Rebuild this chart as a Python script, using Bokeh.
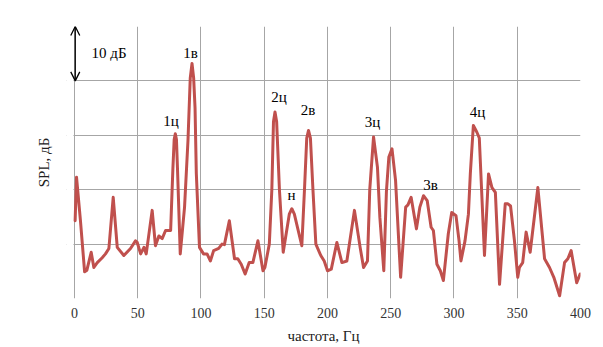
from bokeh.plotting import figure
from bokeh.models import Range1d, FixedTicker, Label, Arrow, OpenHead, BoxAnnotation
from bokeh.embed import file_html
from bokeh.resources import INLINE

# ---- data ----
freq = [0.5, 1.6, 4.7, 8.0, 9.8, 13.2, 15.3, 18.0, 21.9, 24.5, 27.2, 30.6, 33.8, 39.0, 44.3,
        48.2, 49.6, 52.3, 54.9, 56.7, 61.4, 64.0, 66.7, 69.3, 72.0, 76.0, 77.8, 78.8, 79.7,
        80.6, 81.4, 83.6, 87.0, 89.7, 91.5, 92.9, 94.2, 95.3, 96.3, 98.8, 102.0, 104.8,
        107.4, 110.0, 114.0, 116.6, 118.5, 122.4, 126.5, 129.1, 131.8, 134.9, 138.1, 141.0,
        145.0, 149.0, 150.5, 154.0, 156.0, 157.3, 158.5, 159.8, 162.0, 165.0, 169.8, 171.8,
        173.8, 179.7, 181.8, 183.6, 185.0, 186.5, 188.5, 190.8, 194.7, 197.4, 200.0, 203.0,
        207.4, 211.4, 215.3, 221.3, 225.8, 228.5, 231.6, 233.4, 236.4, 239.5, 241.4, 244.5,
        246.6, 248.5, 251.0, 253.8, 257.8, 261.8, 263.6, 266.1, 270.3, 273.0, 275.9, 278.8,
        281.9, 283.7, 286.5, 289.2, 291.6, 295.5, 298.2, 301.6, 304.0, 305.5, 308.7, 311.4,
        312.9, 315.3, 318.0, 320.0, 324.1, 327.3, 330.0, 332.7, 336.0, 340.5, 342.6, 344.7,
        347.8, 350.4, 351.7, 354.3, 357.0, 360.2, 366.3, 371.6, 375.5, 378.9, 383.5, 387.4,
        390.0, 392.6, 397.0, 399.7]
spl = [14.3, 22.3, 14.3, 4.9, 5.2, 8.5, 5.7, 6.6, 7.5, 8.2, 9.2, 18.6, 9.4, 7.9, 9.2,
       10.6, 10.3, 8.2, 9.4, 8.2, 16.2, 9.7, 11.5, 11.0, 12.5, 12.5, 24.0, 29.2, 30.3,
       29.2, 24.0, 8.2, 16.8, 29.0, 40.5, 43.2, 40.5, 35.0, 23.0, 9.4, 8.2, 8.2,
       6.9, 8.8, 9.2, 10.0, 9.9, 14.3, 7.3, 7.3, 6.3, 4.5, 6.6, 6.6,
       10.6, 5.1, 5.7, 10.0, 20.0, 32.5, 34.3, 32.5, 20.0, 8.5, 15.5, 16.5,
       15.5, 9.7, 20.0, 29.5, 30.9, 29.5, 20.0, 10.0, 7.9, 6.9, 5.1, 5.4,
       10.3, 6.6, 6.9, 16.2, 9.4, 5.7, 6.9, 20.0, 29.7, 24.1, 14.9, 5.1,
       19.8, 26.0, 27.5, 21.7, 3.9, 16.8, 17.2, 18.6, 12.8, 16.8, 18.9, 18.0,
       13.1, 12.5, 6.3, 5.1, 3.3, 11.9, 15.8, 15.2, 10.6, 6.9, 10.6, 15.5,
       22.9, 31.8, 30.6, 29.5, 7.9, 22.9, 20.4, 19.5, 2.6, 17.4, 17.4, 17.0,
       10.6, 3.9, 5.7, 6.6, 12.2, 8.5, 20.4, 7.3, 5.7, 3.9, 0.5, 6.6,
       7.3, 8.8, 2.9, 4.5]

x_ticks = [0, 50, 100, 150, 200, 250, 300, 350, 400]
y_grid = [0, 10, 20, 30, 40, 50]

peak_names = ["1ц", "1в", "2ц", "н", "2в", "3ц", "3в", "4ц"]
peak_x = [76.3, 91.7, 161.7, 171.5, 184.6, 235.6, 281.4, 318.6]
peak_y = [32.7, 45.1, 37.0, 19.1, 34.6, 32.4, 20.8, 34.2]

FONT = "Liberation Serif"
GRID = "#a6a6a6"
X_PAD = -6.32   # small blank strip left of 0 Hz so the scale arrow's heads are not clipped

p = figure(width=603, height=347, output_backend="svg", toolbar_location=None,
           x_range=Range1d(X_PAD, 400), y_range=Range1d(0, 50),
           min_border_left=66, min_border_right=23, min_border_top=26, min_border_bottom=49)
p.background_fill_color = "white"
p.border_fill_color = "white"
p.outline_line_color = None

p.xaxis.ticker = FixedTicker(ticks=x_ticks)
p.yaxis.ticker = FixedTicker(ticks=[])
for ax in (p.xaxis, p.yaxis):
    ax.axis_line_color = None
    ax.major_tick_line_color = None
    ax.minor_tick_line_color = None
    ax.major_tick_in = 0
    ax.major_tick_out = 0
    ax.axis_label_text_font = FONT
    ax.axis_label_text_font_style = "normal"
    ax.axis_label_text_font_size = "15px"
    ax.axis_label_text_color = "#222222"
    ax.major_label_text_font = FONT
    ax.major_label_text_font_size = "14px"
    ax.major_label_text_color = "#333333"

p.xaxis.axis_label = "частота, Гц"
p.xaxis.major_label_standoff = 9
p.xaxis.axis_label_standoff = 7
p.yaxis.axis_label = "SPL, дБ"
p.yaxis.axis_label_standoff = 15

p.xgrid.ticker = FixedTicker(ticks=x_ticks)
p.ygrid.ticker = FixedTicker(ticks=y_grid)
p.grid.grid_line_color = GRID
p.grid.grid_line_width = 1

# blank out the horizontal grid stubs in the strip left of 0 Hz
p.add_layout(BoxAnnotation(left=X_PAD, right=-0.8, bottom=-1, top=51,
                           fill_color="white", fill_alpha=1, line_color=None,
                           level="underlay"))

p.line(freq, spl, line_color="#c0504d", line_width=3, line_join="round", line_cap="round")

# 10 dB scale arrow
p.add_layout(Arrow(x_start=0.6, y_start=40, x_end=0.6, y_end=50,
                   start=OpenHead(size=9, line_color="black", line_width=1.3),
                   end=OpenHead(size=9, line_color="black", line_width=1.3),
                   line_color="black", line_width=1.3))
p.add_layout(Label(x=27.3, y=45.1, text="10 дБ", text_font=FONT, text_font_size="15px",
                   text_align="center", text_baseline="middle", text_color="black"))

for name, px, py in zip(peak_names, peak_x, peak_y):
    p.add_layout(Label(x=px, y=py, text=name, text_font=FONT, text_font_size="15px",
                       text_align="center", text_baseline="middle", text_color="black"))

open("out.html", "w").write(file_html(p, INLINE))
